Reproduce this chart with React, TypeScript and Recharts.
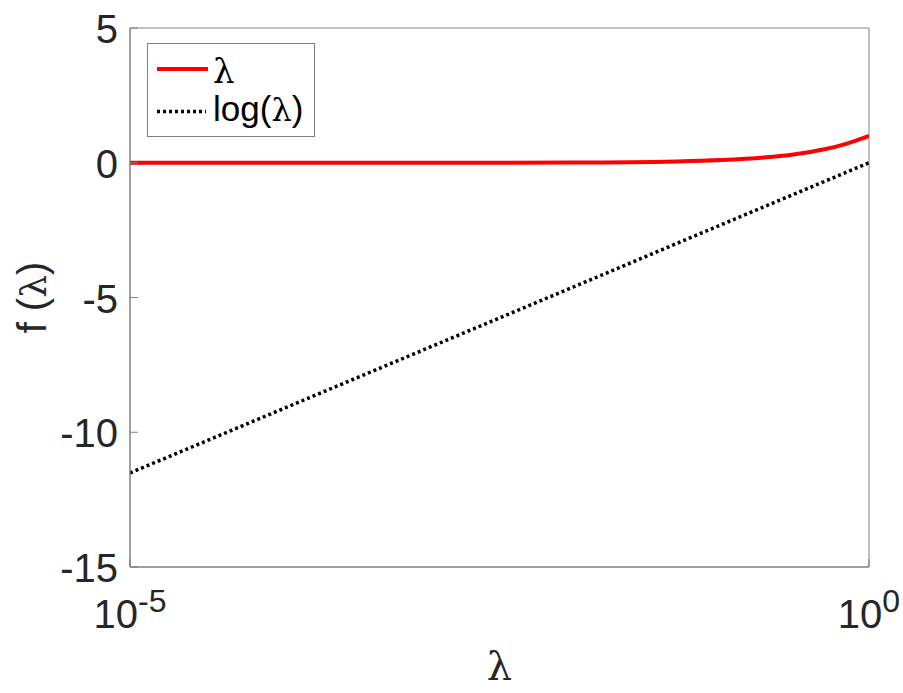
import React from 'react';
import { LineChart, Line, XAxis, YAxis, ReferenceArea } from 'recharts';

// values
const lambdaX = [0.00001, 0.0001, 0.001, 0.01, 0.05, 0.1, 0.2, 0.3, 0.4, 0.5, 0.6, 0.7, 0.8, 0.9, 1];
const lambdaY = [0.00001, 0.0001, 0.001, 0.01, 0.05, 0.1, 0.2, 0.3, 0.4, 0.5, 0.6, 0.7, 0.8, 0.9, 1];
const logX = [0.00001, 0.0001, 0.001, 0.01, 0.1, 1];
const logY = [-11.51, -9.21, -6.91, -4.61, -2.3, 0];

const xTicks = [0.00001, 1];
const xTickExp: Record<string, string> = { '0.00001': '-5', '1': '0' };
const yTicks = [5, 0, -5, -10, -15];

const lambdaData = lambdaX.map((x, i) => ({ x, y: lambdaY[i] }));
const logData = logX.map((x, i) => ({ x, y: logY[i] }));

const FONT = '"Liberation Sans", Arial, sans-serif';
const SERIF = '"DejaVu Serif", "Liberation Serif", serif';
const TEXT = '#262626';
const AXIS = '#808080';

const XTick = (props: any) => {
  const { x, y, payload } = props;
  return (
    <g>
      <line x1={x} y1={y} x2={x} y2={y - 8} stroke={AXIS} />
      <text x={x} y={y + 61} textAnchor="middle" fontSize={40} fill={TEXT} fontFamily={FONT}>
        10<tspan fontSize={32} dy={-16}>{xTickExp[String(payload.value)]}</tspan>
      </text>
    </g>
  );
};

const TopTick = (props: any) => {
  const { x, y } = props;
  return <line x1={x} y1={y} x2={x} y2={y + 8} stroke={AXIS} />;
};

const YTick = (props: any) => {
  const { x, y, payload } = props;
  return (
    <g>
      <line x1={x} y1={y} x2={x + 8} y2={y} stroke={AXIS} />
      <text x={x - 12} y={y + 15} textAnchor="end" fontSize={40} fill={TEXT} fontFamily={FONT}>
        {payload.value}
      </text>
    </g>
  );
};

const RightTick = (props: any) => {
  const { x, y } = props;
  return <line x1={x} y1={y} x2={x - 8} y2={y} stroke={AXIS} />;
};

const XLabel = (props: any) => {
  const { viewBox } = props;
  return (
    <text x={viewBox.x + viewBox.width / 2} y={viewBox.y + 113} textAnchor="middle" fontSize={40} fill={TEXT} fontFamily={SERIF}>
      λ
    </text>
  );
};

const YLabel = (props: any) => {
  const { viewBox } = props;
  const cy = viewBox.y + viewBox.height / 2;
  return (
    <text x={46} y={cy} transform={`rotate(-90, 46, ${cy})`} textAnchor="middle" fontSize={40} fill={TEXT} fontFamily={FONT}>
      f (<tspan fontFamily={SERIF} fontSize={36}>λ</tspan>)
    </text>
  );
};

const LegendBox = () => (
  <svg width={903} height={693} style={{ position: 'absolute', left: 0, top: 0, pointerEvents: 'none' }}>
    <rect x={147.5} y={43.5} width={167} height={93} fill="#fff" stroke={AXIS} />
    <line x1={157} y1={69} x2={208} y2={69} stroke="#ff0000" strokeWidth={4} />
    <text x={213} y={83} fontSize={34} fontFamily={SERIF} fill="#000">λ</text>
    <line x1={157} y1={111.5} x2={206} y2={111.5} stroke="#000" strokeWidth={3.5} strokeDasharray="3 3" />
    <text x={213} y={121} fontSize={35} fontFamily={FONT} fill="#000">
      log(<tspan fontFamily={SERIF} fontSize={32}>λ</tspan>)
    </text>
  </svg>
);

export default function App() {
  return (
    <div style={{ position: 'absolute', left: 0, top: 0, width: 903, height: 693, background: '#fff' }}>
      <LineChart width={903} height={693} margin={{ top: 28, right: 34, left: 0, bottom: 0 }}>
        <XAxis
          xAxisId="b"
          dataKey="x"
          type="number"
          scale="log"
          domain={[0.00001, 1]}
          ticks={xTicks}
          allowDataOverflow
          height={126}
          tickSize={0}
          tickMargin={0}
          tick={<XTick />}
          axisLine={{ stroke: AXIS }}
          label={<XLabel />}
        />
        <XAxis
          xAxisId="t"
          orientation="top"
          dataKey="x"
          type="number"
          scale="log"
          domain={[0.00001, 1]}
          ticks={xTicks}
          allowDataOverflow
          height={0}
          tickSize={0}
          tickMargin={0}
          tick={<TopTick />}
          axisLine={{ stroke: AXIS }}
        />
        <YAxis
          yAxisId="l"
          dataKey="y"
          type="number"
          domain={[-15, 5]}
          ticks={yTicks}
          allowDataOverflow
          width={130}
          tickSize={0}
          tickMargin={0}
          tick={<YTick />}
          axisLine={{ stroke: AXIS }}
          label={<YLabel />}
        />
        <YAxis
          yAxisId="r"
          orientation="right"
          dataKey="y"
          type="number"
          domain={[-15, 5]}
          ticks={yTicks}
          allowDataOverflow
          width={0}
          tickSize={0}
          tickMargin={0}
          tick={<RightTick />}
          axisLine={{ stroke: AXIS }}
        />
        <ReferenceArea xAxisId="b" yAxisId="l" x1={0.00001} x2={1} y1={-15} y2={5} fill="none" stroke={AXIS} ifOverflow="visible" />
        <Line
          xAxisId="b"
          yAxisId="l"
          data={lambdaData}
          dataKey="y"
          type="monotone"
          stroke="#ff0000"
          strokeWidth={4}
          dot={false}
          isAnimationActive={false}
        />
        <Line
          xAxisId="b"
          yAxisId="l"
          data={logData}
          dataKey="y"
          type="linear"
          stroke="#000"
          strokeWidth={3.5}
          strokeDasharray="3 3"
          dot={false}
          isAnimationActive={false}
        />
      </LineChart>
      <LegendBox />
    </div>
  );
}
